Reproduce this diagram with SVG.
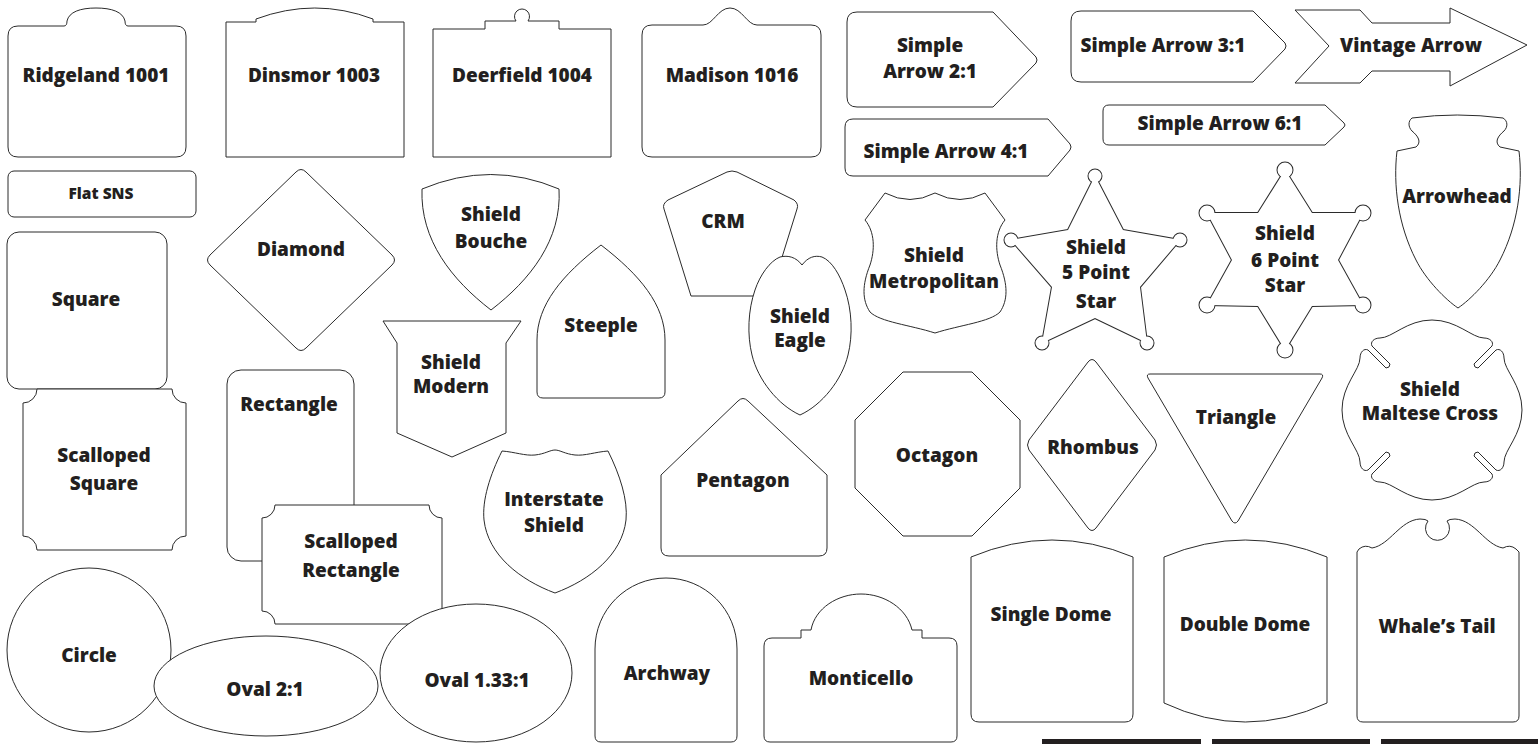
<svg xmlns="http://www.w3.org/2000/svg" width="1538" height="744" viewBox="0 0 1538 744">
<style>
.s{fill:#fff;stroke:#2b2b2b;stroke-width:1}
.t{font-family:"Open Sans","Liberation Sans",sans-serif;font-weight:800;font-size:19px;fill:#231f20;text-anchor:middle}
.sm{font-size:15.5px}
.u{fill:#fff;stroke:#2b2b2b;stroke-width:2}
.f{fill:#fff;stroke:none}
.bar{fill:#231f20}
</style>
<defs>
<g id="star5">
<polygon points="1095,176 1123,230 1180,240 1140,287 1147,343 1095,318 1042,343 1052,287 1011,240 1068,230"/>
<circle cx="1095" cy="176" r="6.5"/><circle cx="1180" cy="240" r="6.5"/><circle cx="1147" cy="343" r="6.5"/><circle cx="1042" cy="343" r="6.5"/><circle cx="1011" cy="240" r="6.5"/>
</g>
<g id="star6">
<polygon points="1285,170 1312,213 1363,213 1338,260 1363,305 1312,306 1285,350 1258,306 1207,305 1232,260 1207,213 1258,213"/>
<circle cx="1285" cy="170" r="7.5"/><circle cx="1363" cy="213" r="7.5"/><circle cx="1363" cy="305" r="7.5"/><circle cx="1285" cy="350" r="7.5"/><circle cx="1207" cy="305" r="7.5"/><circle cx="1207" cy="213" r="7.5"/>
</g>
</defs>
<rect width="1538" height="744" fill="#fff"/>
<g id="connectors"></g>

<g id="ridgeland">
<path class="s" d="M18,26 L64,26 Q67,26 67,21 C69,12 80,8 96,8 C112,8 123,12 125,21 Q125,26 128,26 L176,26 Q186,26 186,36 L186,147 Q186,157 176,157 L18,157 Q8,157 8,147 L8,36 Q8,26 18,26 Z"/>
<text class="t" x="96" y="82">Ridgeland 1001</text>
</g>
<g id="dinsmor">
<path class="s" d="M226,157 L226,22 L256,22 L256,19 Q315,-3 373,19 L373,22 L404,22 L404,157 Z"/>
<text class="t" x="314" y="82">Dinsmor 1003</text>
</g>
<g id="deerfield">
<path class="s" d="M433,157 L433,29 L485,29 L485,21 L516,21 A7.5,7.5 0 1 1 528,21 L559,21 L559,29 L611,29 L611,157 Z"/>
<text class="t" x="522" y="82">Deerfield 1004</text>
</g>
<g id="madison">
<path class="s" d="M652,25 L703,25 C713,25 718,8 730,8 C742,8 747,25 757,25 L811,25 Q821,25 821,35 L821,147 Q821,157 811,157 L652,157 Q642,157 642,147 L642,35 Q642,25 652,25 Z"/>
<text class="t" x="732" y="82">Madison 1016</text>
</g>
<g id="flat-sns">
<rect class="s" x="8" y="171" width="188" height="46" rx="6"/>
<text class="t sm" x="101" y="199">Flat SNS</text>
</g>
<g id="diamond">
<path class="s" d="M296,172 Q301,167 306,172 L392,255 Q397,260 392,265 L306,348 Q301,353 296,348 L210,265 Q205,260 210,255 Z"/>
<text class="t" x="301" y="256">Diamond</text>
</g>
<g id="square">
<rect class="s" x="7" y="232" width="160" height="157" rx="12"/>
<text class="t" x="86" y="306">Square</text>
</g>
<g id="scalloped-square">
<path class="s" d="M37,389 L172,389 A14,14 0 0 0 186,403 L186,536 A14,14 0 0 0 172,550 L37,550 A14,14 0 0 0 23,536 L23,403 A14,14 0 0 0 37,389 Z"/>
<text class="t" x="104" y="462">Scalloped</text>
<text class="t" x="104" y="490">Square</text>
</g>
<g id="rectangle">
<rect class="s" x="227" y="370" width="127" height="191" rx="14"/>
<text class="t" x="289" y="411">Rectangle</text>
</g>
<g id="scalloped-rectangle">
<path class="s" d="M275,505 L429,505 A13,13 0 0 0 442,518 L442,611 A13,13 0 0 0 429,624 L275,624 A13,13 0 0 0 262,611 L262,518 A13,13 0 0 0 275,505 Z"/>
<text class="t" x="351" y="548">Scalloped</text>
<text class="t" x="351" y="577">Rectangle</text>
</g>
<g id="shield-bouche">
<path class="s" d="M422,189 Q491,160 559,189 C562,240 530,280 491,310 C452,280 420,240 422,189 Z"/>
<text class="t" x="491" y="221">Shield</text>
<text class="t" x="491" y="248">Bouche</text>
</g>
<g id="shield-modern">
<path class="s" d="M383,321 L521,321 L506,343 L506,433 L452,457 L397,433 L397,343 Z"/>
<text class="t" x="451" y="369">Shield</text>
<text class="t" x="451" y="393">Modern</text>
</g>
<g id="steeple">
<path class="s" d="M601,245 C640,275 665,305 665,340 L665,392 Q665,398 659,398 L543,398 Q537,398 537,392 L537,340 C537,305 562,275 601,245 Z"/>
<text class="t" x="601" y="332">Steeple</text>
</g>
<g id="crm">
<path class="s" d="M668,200 L727,172 Q732,170 737,172 L794,200 Q799,204 797,209 L770,296 L691,296 L664,209 Q662,204 668,200 Z"/>
<text class="t" x="723" y="228">CRM</text>
</g>
<g id="shield-eagle">
<path class="s" d="M802,265 C808,257 815,255 822,257 C832,261 840,275 845,290 C852,310 853,335 848,355 C842,380 822,405 800,415 C778,405 758,380 752,355 C747,335 748,310 755,290 C760,275 770,261 780,257 C788,255 796,257 802,265 Z"/>
<text class="t" x="800" y="323">Shield</text>
<text class="t" x="800" y="347">Eagle</text>
</g>
<g id="interstate-shield">
<path class="s" d="M502,451 C515,452 525,456 535,455 C545,454 550,450 555,450 C560,450 565,454 575,455 C585,456 595,452 608,451 C620,475 628,500 626,520 C622,555 590,580 555,593 C520,580 488,555 484,520 C482,500 490,475 502,451 Z"/>
<text class="t" x="554" y="506">Interstate</text>
<text class="t" x="554" y="532">Shield</text>
</g>
<g id="pentagon">
<path class="s" d="M738,401 Q743,396 748,401 L827,475 L827,548 Q827,556 819,556 L669,556 Q661,556 661,548 L661,475 Z"/>
<text class="t" x="743" y="487">Pentagon</text>
</g>
<g id="circle">
<circle class="s" cx="89" cy="650" r="82"/>
<text class="t" x="89" y="662">Circle</text>
</g>
<g id="oval-2-1">
<ellipse class="s" cx="266" cy="686" rx="112" ry="50"/>
<text class="t" x="265" y="696">Oval 2:1</text>
</g>
<g id="oval-133-1">
<ellipse class="s" cx="476" cy="673" rx="96" ry="69"/>
<text class="t" x="477" y="687">Oval 1.33:1</text>
</g>
<g id="archway">
<path class="s" d="M595,736 L595,649 A71,71 0 0 1 737,649 L737,736 Q737,742 731,742 L601,742 Q595,742 595,736 Z"/>
<text class="t" x="667" y="680">Archway</text>
</g>
<g id="monticello">
<path class="s" d="M764,646 Q764,638 772,638 L801,638 L801,630 L811,630 C815,608 838,594 861,594 C884,594 907,608 912,630 L922,630 L922,638 L949,638 Q957,638 957,646 L957,736 Q957,742 951,742 L770,742 Q764,742 764,736 Z"/>
<text class="t" x="861" y="685">Monticello</text>
</g>
<g id="simple-arrow-2-1">
<path class="s" d="M857,12 L993,12 L1036,57 Q1038,60 1036,63 L993,107 L857,107 Q847,107 847,97 L847,22 Q847,12 857,12 Z"/>
<text class="t" x="930" y="52">Simple</text>
<text class="t" x="930" y="78">Arrow 2:1</text>
</g>
<g id="simple-arrow-3-1">
<path class="s" d="M1081,11 L1253,11 L1285,43 Q1287,46 1285,49 L1253,82 L1081,82 Q1071,82 1071,72 L1071,21 Q1071,11 1081,11 Z"/>
<text class="t" x="1163" y="52">Simple Arrow 3:1</text>
</g>
<g id="vintage-arrow">
<path class="s" d="M1295,10 L1360,10 L1372,23 L1450,23 L1450,8 L1527,45 L1450,86 L1450,71 L1372,71 L1360,83 L1295,83 L1329,46 Z"/>
<text class="t" x="1411" y="52">Vintage Arrow</text>
</g>
<g id="simple-arrow-4-1">
<path class="s" d="M853,119 L1048,119 L1070,144 Q1072,147 1070,150 L1048,176 L853,176 Q845,176 845,168 L845,127 Q845,119 853,119 Z"/>
<text class="t" x="946" y="158">Simple Arrow 4:1</text>
</g>
<g id="simple-arrow-6-1">
<path class="s" d="M1109,105 L1325,105 L1344,123 Q1346,125 1344,127 L1325,145 L1109,145 Q1103,145 1103,139 L1103,111 Q1103,105 1109,105 Z"/>
<text class="t" x="1220" y="130">Simple Arrow 6:1</text>
</g>
<g id="shield-metropolitan">
<path class="s" d="M865,220 L885,193 Q910,206 935,193 Q960,206 985,193 L1005,220 C995,232 995,250 1000,265 C1008,285 1008,300 1000,312 C990,322 960,325 935,333 C910,325 880,322 870,312 C862,300 862,285 870,265 C875,250 875,232 865,220 Z"/>
<text class="t" x="934" y="262">Shield</text>
<text class="t" x="934" y="288">Metropolitan</text>
</g>
<g id="shield-5-point-star">
<use href="#star5" class="u"/>
<use href="#star5" class="f"/>
<text class="t" x="1096" y="254">Shield</text>
<text class="t" x="1096" y="279">5 Point</text>
<text class="t" x="1096" y="308">Star</text>
</g>
<g id="shield-6-point-star">
<use href="#star6" class="u"/>
<use href="#star6" class="f"/>
<text class="t" x="1285" y="240">Shield</text>
<text class="t" x="1285" y="267">6 Point</text>
<text class="t" x="1285" y="292">Star</text>
</g>
<g id="arrowhead">
<path class="s" d="M1412,118 Q1457,112 1503,118 C1508,121 1508,127 1504,131 C1498,136 1494,142 1500,147 L1519,151 C1523,185 1518,225 1500,260 C1490,280 1470,300 1458,308 C1446,300 1426,280 1416,260 C1398,225 1393,185 1397,151 L1416,147 C1422,142 1418,136 1412,131 C1408,127 1408,121 1412,118 Z"/>
<text class="t" x="1457" y="203">Arrowhead</text>
</g>
<g id="shield-maltese-cross">
<path class="s" transform="translate(1432,410)" d="M-60,-64 C-62,-68 -58,-72 -52,-72 C-40,-72 -25,-90 0,-90 C25,-90 40,-72 52,-72 C58,-72 62,-68 60,-64 L42,-46 Q42,-42 46,-42 L64,-60 C68,-62 72,-58 72,-52 C72,-40 90,-25 90,0 C90,25 72,40 72,52 C72,58 68,62 64,60 L46,42 Q42,42 42,46 L60,64 C62,68 58,72 52,72 C40,72 25,90 0,90 C-25,90 -40,72 -52,72 C-58,72 -62,68 -60,64 L-42,46 Q-42,42 -46,42 L-64,60 C-68,62 -72,58 -72,52 C-72,40 -90,25 -90,0 C-90,-25 -72,-40 -72,-52 C-72,-58 -68,-62 -64,-60 L-46,-42 Q-42,-42 -42,-46 Z"/>
<text class="t" x="1430" y="396">Shield</text>
<text class="t" x="1430" y="420">Maltese Cross</text>
</g>
<g id="octagon">
<polygon class="s" points="903,372 972,372 1020,420 1020,488 972,536 903,536 855,488 855,420"/>
<text class="t" x="937" y="462">Octagon</text>
</g>
<g id="rhombus">
<path class="s" d="M1088,362 Q1092,357 1096,362 L1155,440 Q1158,445 1155,450 L1096,528 Q1092,533 1088,528 L1029,450 Q1026,445 1029,440 Z"/>
<text class="t" x="1093" y="454">Rhombus</text>
</g>
<g id="triangle">
<path class="s" d="M1150,374 L1320,374 Q1324,374 1322,378 L1238,521 Q1235,525 1232,521 L1148,378 Q1146,374 1150,374 Z"/>
<text class="t" x="1236" y="424">Triangle</text>
</g>
<g id="single-dome">
<path class="s" d="M971,557 Q1052,523 1133,557 L1133,714 Q1133,722 1125,722 L979,722 Q971,722 971,714 Z"/>
<text class="t" x="1051" y="621">Single Dome</text>
</g>
<g id="double-dome">
<path class="s" d="M1164,557 Q1245,523 1327,557 L1327,703 Q1245,741 1164,703 Z"/>
<text class="t" x="1245" y="631">Double Dome</text>
</g>
<g id="whales-tail">
<path class="s" d="M1357,552 L1359,549 Q1365,544 1372,548 C1390,545 1400,520 1420,519 Q1426,519 1428,521 A12,12 0 1 0 1447,521 Q1449,519 1455,519 C1475,520 1485,545 1503,548 Q1510,544 1516,549 L1519,552 L1519,716 Q1519,722 1513,722 L1363,722 Q1357,722 1357,716 Z"/>
<text class="t" x="1437" y="633">Whale’s Tail</text>
</g>
<g id="bars">
<rect class="bar" x="1042" y="739" width="159" height="5"/>
<rect class="bar" x="1212" y="739" width="158" height="5"/>
<rect class="bar" x="1381" y="739" width="157" height="5"/>
</g>
</svg>
